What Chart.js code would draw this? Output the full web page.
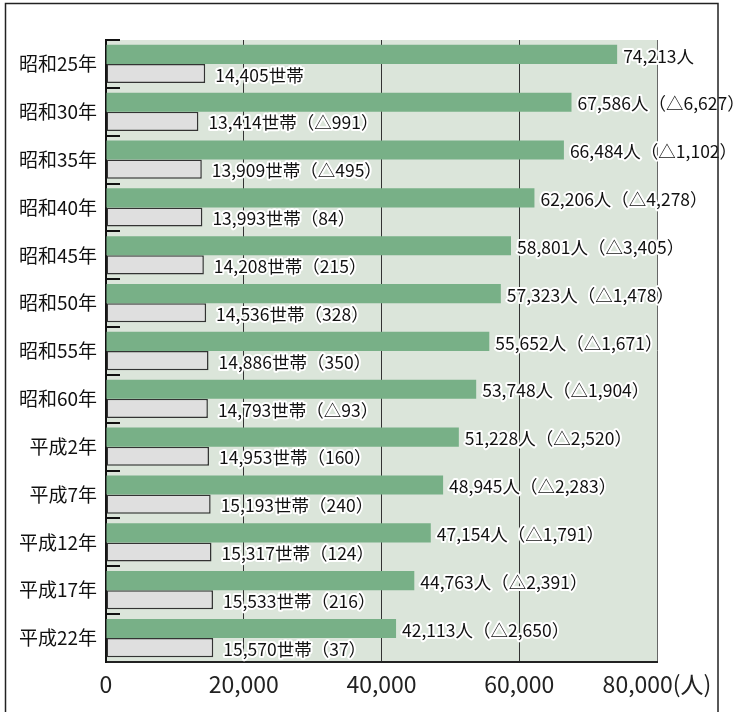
<!DOCTYPE html>
<html>
<head>
<meta charset="utf-8">
<script src="https://cdn.jsdelivr.net/npm/chart.js@4"></script>
<style>
  body { margin: 0; background: #fff; }
  #wrap { width: 739px; height: 712px; }
</style>
</head>
<body>
<div id="wrap"><canvas id="populationChart"></canvas></div>
<script>
    // データ
    const categories = ['昭和25年', '昭和30年', '昭和35年', '昭和40年', '昭和45年', '昭和50年', '昭和55年', '昭和60年', '平成2年', '平成7年', '平成12年', '平成17年', '平成22年'];
    const population = [74213, 67586, 66484, 62206, 58801, 57323, 55652, 53748, 51228, 48945, 47154, 44763, 42113];
    const populationChange = [null, -6627, -1102, -4278, -3405, -1478, -1671, -1904, -2520, -2283, -1791, -2391, -2650];
    const households = [14405, 13414, 13909, 13993, 14208, 14536, 14886, 14793, 14953, 15193, 15317, 15533, 15570];
    const householdChange = [null, -991, -495, 84, 215, 328, 350, -93, 160, 240, 124, 216, 37];
    const xTicks = [0, 20000, 40000, 60000, 80000];

    const FONT = "'Noto Sans CJK JP', 'Noto Sans', sans-serif";

    function fmt(n) {
        return String(n).replace(/\B(?=(\d{3})+(?!\d))/g, ',');
    }
    function fmtChange(n) {
        if (n === null) return '';
        return '（' + (n < 0 ? '△' + fmt(-n) : fmt(n)) + '）';
    }

    // 背景と枠
    const backgroundPlugin = {
        id: 'background',
        beforeDraw(chart) {
            const { ctx, chartArea } = chart;
            ctx.save();
            ctx.fillStyle = '#dbe5da';
            ctx.fillRect(chartArea.left, chartArea.top, chartArea.right - chartArea.left, chartArea.bottom - chartArea.top);
            ctx.restore();
        },
        afterDraw(chart) {
            const { ctx } = chart;
            const y = chart.scales.y;
            ctx.save();
            // 目盛り（軸の内側）
            ctx.strokeStyle = '#111';
            ctx.lineWidth = 2;
            for (let i = 0; i < categories.length; i++) {
                const py = Math.round(y.getPixelForValue(i - 0.5));
                ctx.beginPath();
                ctx.moveTo(chart.chartArea.left, py);
                ctx.lineTo(chart.chartArea.left + 14, py);
                ctx.stroke();
            }
            // 外枠
            ctx.lineWidth = 1.5;
            ctx.strokeStyle = '#222';
            ctx.strokeRect(5.5, 3.5, 712.5, 730);
            ctx.restore();
        }
    };

    // 数値ラベル
    const valueLabels = {
        id: 'valueLabels',
        afterDatasetsDraw(chart) {
            const { ctx } = chart;
            ctx.save();
            ctx.font = '17.5px ' + FONT;
            ctx.textBaseline = 'middle';
            ctx.textAlign = 'left';
            ctx.lineJoin = 'round';
            chart.data.datasets.forEach((ds, di) => {
                const meta = chart.getDatasetMeta(di);
                meta.data.forEach((bar, i) => {
                    let text;
                    if (di === 0) text = fmt(population[i]) + '人' + fmtChange(populationChange[i]);
                    else text = fmt(households[i]) + '世帯' + fmtChange(householdChange[i]);
                    const x = bar.x + (di === 0 ? 6 : 10);
                    const y = bar.y + 1.5;
                    ctx.strokeStyle = '#fff';
                    ctx.lineWidth = 4;
                    ctx.strokeText(text, x, y);
                    ctx.fillStyle = '#111';
                    ctx.fillText(text, x, y);
                });
            });
            ctx.restore();
        }
    };

    const config = {
        type: 'bar',
        data: {
            labels: categories,
            datasets: [
                {
                    label: '人口',
                    data: population,
                    backgroundColor: 'rgb(120,176,135)',
                    borderWidth: 0,
                    categoryPercentage: 0.8,
                    barPercentage: 1.0
                },
                {
                    label: '世帯数',
                    data: households,
                    backgroundColor: '#dfdfdf',
                    borderColor: '#333',
                    borderWidth: 1.5,
                    borderSkipped: false,
                    categoryPercentage: 0.8,
                    barPercentage: 1.0
                }
            ]
        },
        options: {
            indexAxis: 'y',
            responsive: true,
            maintainAspectRatio: false,
            animation: false,
            layout: { padding: { top: 40, right: 82, left: 0, bottom: 0 } },
            plugins: {
                legend: { display: false },
                tooltip: { enabled: false }
            },
            scales: {
                x: {
                    min: 0,
                    max: 80000,
                    afterFit(scale) { scale.height = 50; },
                    afterBuildTicks(scale) { scale.ticks = xTicks.map(v => ({ value: v })); },
                    border: { display: true, color: '#222', width: 2 },
                    grid: {
                        drawTicks: false,
                        color: ctx => ctx.tick && ctx.tick.value === 0 ? 'rgba(0,0,0,0)' : (ctx.tick && ctx.tick.value === 80000 ? '#666' : '#333'),
                        lineWidth: 1
                    },
                    ticks: {
                        padding: 8,
                        color: '#222',
                        font: { family: FONT, size: 23 },
                        maxRotation: 0,
                        callback: v => v === 80000 ? fmt(v) + '(人)' : fmt(v)
                    }
                },
                y: {
                    afterFit(scale) { scale.width = 106; },
                    border: { display: true, color: '#111', width: 2 },
                    grid: { display: false, drawTicks: false },
                    ticks: {
                        padding: 9,
                        color: '#111',
                        font: { family: FONT, size: 19 }
                    }
                }
            }
        },
        plugins: [backgroundPlugin, valueLabels]
    };

    const ctx1 = document.getElementById('populationChart').getContext('2d');
    new Chart(ctx1, config);
</script>
</body>
</html>
